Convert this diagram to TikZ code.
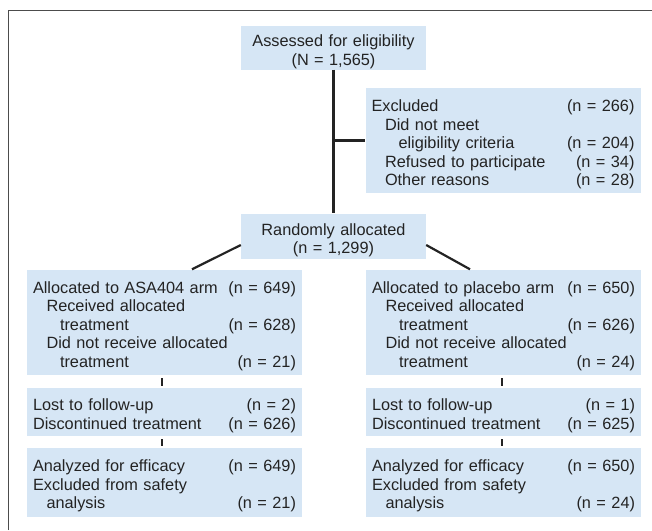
\documentclass[tikz,border=0pt]{standalone}
\usepackage{fontspec}
\setmainfont{Liberation Sans}
\usepackage{xcolor}
\definecolor{boxblue}{RGB}{214,230,245}
\definecolor{inkgray}{RGB}{35,35,35}
\newcommand{\nrow}[2]{#1\hspace*{\fill}#2}
\newcommand{\ind}{\hspace*{13.5pt}}

\begin{document}
\begin{tikzpicture}[x=1pt,y=-1pt,every node/.style={font=\fontsize{16.3}{18.5}\selectfont,text=inkgray},
  flowbox/.style={fill=boxblue,inner xsep=6pt,inner ysep=0pt,align=left,
    execute at begin node={\rule{0pt}{20pt}}},
  widebox/.style={flowbox,text width=263pt},
  midbox/.style={flowbox,text width=173pt,align=center},
  link/.style={line width=2.2pt,inkgray},
  tick/.style={line width=2pt,inkgray,shorten <=3.5pt,shorten >=1.5pt}]
\useasboundingbox (0,0) rectangle (652,530);
\draw[gray!60!black,line width=0.8pt] (8,530) -- (8,10) -- (652,10);
% screening
\node[midbox,minimum height=44pt] (assessed) at (333.5,47.5) {Assessed for eligibility\\(N = 1,565)};
\node[widebox,minimum height=105pt] (excluded) at (503,140.5) {\nrow{Excluded}{(n = 266)}\\
  \ind Did not meet\\
  \ind\ind\nrow{eligibility criteria}{(n = 204)}\\
  \ind\nrow{Refused to participate}{(n = 34)}\\
  \ind\nrow{Other reasons}{(n = 28)}};
\node[midbox,minimum height=45pt] (random) at (333.5,236) {Randomly allocated\\(n = 1,299)};
% ASA404 arm
\node[widebox,minimum height=105pt] (asa) at (164.5,322) {\nrow{Allocated to ASA404 arm}{(n = 649)}\\
  \ind Received allocated\\
  \ind\ind\nrow{treatment}{(n = 628)}\\
  \ind Did not receive allocated\\
  \ind\ind\nrow{treatment}{(n = 21)}};
\node[widebox,minimum height=48pt] (lostA) at (164.5,411.5) {\nrow{Lost to follow-up}{(n = 2)}\\
  \nrow{Discontinued treatment}{(n = 626)}};
\node[widebox,minimum height=69pt] (analyzedA) at (164.5,482) {\nrow{Analyzed for efficacy}{(n = 649)}\\
  Excluded from safety\\
  \ind\nrow{analysis}{(n = 21)}};
% placebo arm
\node[widebox,minimum height=105pt] (placebo) at (503.5,322) {\nrow{Allocated to placebo arm}{(n = 650)}\\
  \ind Received allocated\\
  \ind\ind\nrow{treatment}{(n = 626)}\\
  \ind Did not receive allocated\\
  \ind\ind\nrow{treatment}{(n = 24)}};
\node[widebox,minimum height=48pt] (lostP) at (503.5,411.5) {\nrow{Lost to follow-up}{(n = 1)}\\
  \nrow{Discontinued treatment}{(n = 625)}};
\node[widebox,minimum height=69pt] (analyzedP) at (503.5,482) {\nrow{Analyzed for efficacy}{(n = 650)}\\
  Excluded from safety\\
  \ind\nrow{analysis}{(n = 24)}};
% connectors
\coordinate (split) at (assessed.south |- excluded.west);
\draw[link] (assessed.south) -- (random.north);
\draw[link] (split) -- (excluded.west);
\draw[link] ([yshift=-9pt]random.west) -- ([xshift=27.5pt]asa.north);
\draw[link] ([yshift=-9pt]random.east) -- ([xshift=-33.5pt]placebo.north);
\draw[tick] ([xshift=-2.5pt]asa.south) -- ([xshift=-2.5pt]lostA.north);
\draw[tick] ([xshift=-2.5pt]lostA.south) -- ([xshift=-2.5pt]analyzedA.north);
\draw[tick] ([xshift=-1.5pt]placebo.south) -- ([xshift=-1.5pt]lostP.north);
\draw[tick] ([xshift=-1.5pt]lostP.south) -- ([xshift=-1.5pt]analyzedP.north);
\end{tikzpicture}
\end{document}
